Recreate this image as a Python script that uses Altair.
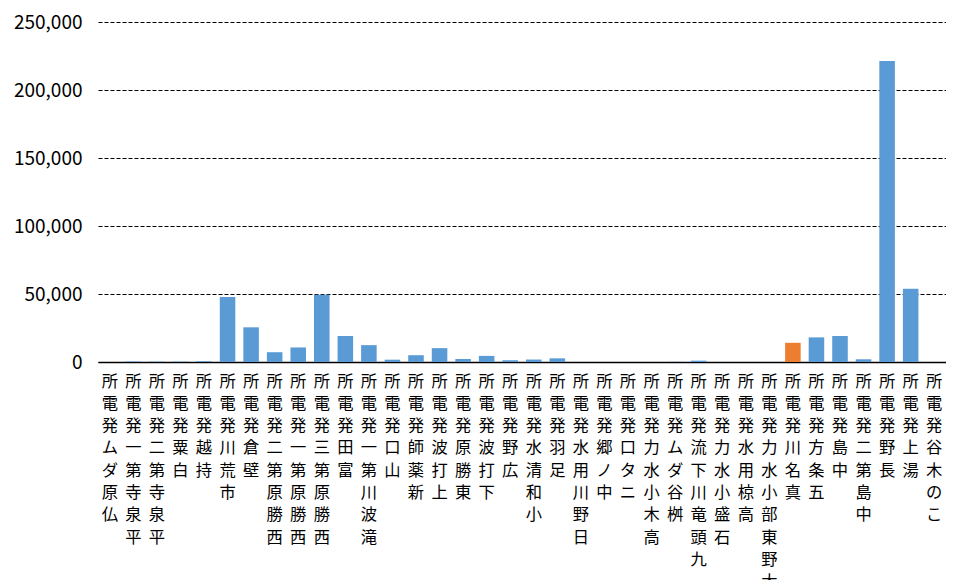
import altair as alt
import pandas as pd

names = [
    "仏原ダム発電所", "平泉寺第一発電所", "平泉寺第二発電所", "白粟発電所", "持越発電所",
    "市荒川発電所", "壁倉発電所", "西勝原第二発電所", "西勝原第一発電所", "西勝原第三発電所",
    "富田発電所", "滝波川第一発電所", "山口発電所", "新薬師発電所", "上打波発電所",
    "東勝原発電所", "下打波発電所", "広野発電所", "小和清水発電所", "足羽発電所",
    "日野川用水発電所", "中ノ郷発電所", "ニタ口発電所", "高木小水力発電所", "桝谷ダム発電所",
    "九頭竜川下流発電所", "石盛小水力発電所", "高椋用水発電所", "大野東部小水力発電所", "真名川発電所",
    "五条方発電所", "中島発電所", "中島第二発電所", "長野発電所", "湯上発電所",
    "この木谷発電所",
]
values = [
    0, 400, 300, 300, 600,
    47800, 25500, 7200, 10700, 49500,
    19100, 12400, 1700, 5000, 10200,
    2200, 4500, 1300, 1800, 2700,
    0, 0, 0, 0, 100,
    1000, 0, 0, 0, 14100,
    18100, 19100, 2000, 221400, 53900,
    0,
]
highlight = "真名川発電所"

df = pd.DataFrame({"name": names, "value": values})
df["group"] = ["highlight" if n == highlight else "normal" for n in names]

chart = alt.Chart(df).mark_bar().encode(
    x=alt.X("name:N", sort=names, title=None,
            scale=alt.Scale(paddingInner=0.34, paddingOuter=0.17),
            axis=alt.Axis(labelAngle=0, labelExpr="reverse(split(datum.label, ''))",
                          labelBaseline="top", labelAlign="center",
                          labelFont="Noto Sans CJK JP", labelFontSize=16.3,
                          labelLineHeight=22.3, labelColor="#000000",
                          labelPadding=11, labelLimit=0, labelOverlap=False,
                          labelBound=False, ticks=False,
                          domainColor="#000000", domainWidth=1.5)),
    y=alt.Y("value:Q", title=None,
            scale=alt.Scale(domain=[0, 250000], nice=False),
            axis=alt.Axis(values=[0, 50000, 100000, 150000, 200000, 250000],
                          format=",d", domain=False, ticks=False,
                          labelFont="Noto Sans CJK JP", labelFontSize=19,
                          labelColor="#000000", labelPadding=16,
                          grid=True, gridColor="#000000", gridDash=[4, 2],
                          gridWidth=1)),
    color=alt.Color("group:N", legend=None,
                    scale=alt.Scale(domain=["normal", "highlight"],
                                    range=["#5B9BD5", "#ED7D31"])),
).properties(
    width=848, height=340,
    autosize=alt.AutoSizeParams(type="none"),
    padding={"left": 90, "top": 14, "right": 0, "bottom": 218},
).configure_view(stroke=None)

chart.save("out.html", embed_options={"renderer": "svg", "actions": False})
